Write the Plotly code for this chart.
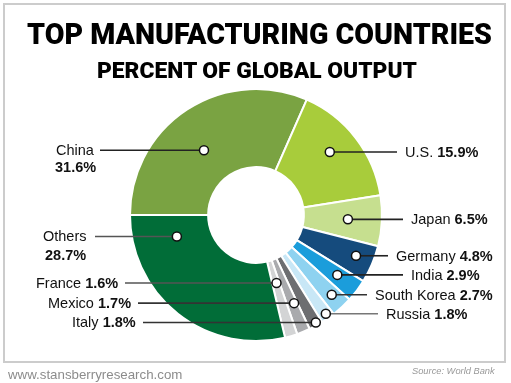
import math
import plotly.graph_objects as go

# ---- data ----
countries = ["China", "U.S.", "Japan", "Germany", "India", "South Korea",
             "Russia", "Italy", "Mexico", "France", "Others"]
shares = [31.6, 15.9, 6.5, 4.8, 2.9, 2.7, 1.8, 1.8, 1.7, 1.6, 28.7]
share_labels = ["31.6%", "15.9%", "6.5%", "4.8%", "2.9%", "2.7%",
                "1.8%", "1.8%", "1.7%", "1.6%", "28.7%"]
title_text = "TOP MANUFACTURING COUNTRIES"
subtitle_text = "PERCENT OF GLOBAL OUTPUT"
site_text = "www.stansberryresearch.com"
source_text = "Source: World Bank"

# ---- style / layout ----
W, H = 511, 383
CX, CY, R = 256, 215, 126
HOLE = 0.38
START = 270  # degrees clockwise from 12 o'clock
colors = ["#7aa342", "#a8cc3b", "#c6df8f", "#154b7d", "#1b9ddb", "#8ed2f0",
          "#c8e7f6", "#6d6e71", "#a9aaad", "#d3d4d5", "#016d38"]
# dot placement: fraction along slice, radius in px
dot_frac = [0.45, 0.45, 0.5, 0.45, 0.45, 0.45, 0.45, 0.4, 0.3, 0.4, 0.853]
dot_rad = [83, 97, 92, 108, 101, 110, 121, 123, 96, 71, 82]
side = ["L", "R", "R", "R", "R", "R", "R", "L", "L", "L", "L"]
line_end = [100, 397, 403, 388, 403, 367, 378, 143, 138, 125, 95]
line_col = ["#222", "#222", "#222", "#222", "#222", "#333", "#777",
            "#333", "#333", "#555", "#555"]
block = {"China": 75, "Others": 65}
value_dy = {"China": 16.5, "Others": 19}
LABEL_FONT = dict(family="Liberation Sans, Arial", size=14.5, color="#111")
TITLE_FAMILY = "Roboto, DejaVu Sans"
FOOT = "Liberation Sans, Arial"

fig = go.Figure()

dom_x = [(CX - R) / W, (CX + R) / W]
dom_y = [1 - (CY + R) / H, 1 - (CY - R) / H]
fig.add_trace(go.Pie(
    labels=countries, values=shares, sort=False, direction="clockwise",
    rotation=START, hole=HOLE, textinfo="none", hoverinfo="label+value",
    marker=dict(colors=colors, line=dict(color="white", width=2)),
    domain=dict(x=dom_x, y=dom_y), showlegend=False,
))
# invisible cartesian trace so the pixel-unit axes exist
fig.add_trace(go.Scatter(x=[0, W], y=[0, H], mode="markers", opacity=0,
                         hoverinfo="skip", showlegend=False))

total = sum(shares)
shapes = [dict(type="rect", x0=4, y0=4, x1=505, y1=362, xref="x", yref="y",
               line=dict(color="#cccccc", width=2), layer="below")]
annotations = []
cum = 0.0
for i, (name, v) in enumerate(zip(countries, shares)):
    a0 = START + cum / total * 360
    a1 = START + (cum + v) / total * 360
    cum += v
    ang = math.radians(a0 + dot_frac[i] * (a1 - a0))
    x = CX + dot_rad[i] * math.sin(ang)
    y = CY - dot_rad[i] * math.cos(ang)
    shapes.append(dict(type="line", x0=x, y0=y, x1=line_end[i], y1=y,
                       xref="x", yref="y", layer="above",
                       line=dict(color=line_col[i], width=1.6)))
    shapes.append(dict(type="circle", x0=x - 4.5, x1=x + 4.5, y0=y - 4.5, y1=y + 4.5,
                       xref="x", yref="y", layer="above", fillcolor="white",
                       line=dict(color="#111", width=1.5)))
    lab = f"{name} <b>{share_labels[i]}</b>"
    if name in block:
        annotations.append(dict(x=block[name], y=y, text=name, xanchor="center",
                                yanchor="middle", showarrow=False, font=LABEL_FONT))
        annotations.append(dict(x=block[name], y=y + value_dy[name],
                                text=f"<b>{share_labels[i]}</b>", xanchor="center",
                                yanchor="middle", showarrow=False, font=LABEL_FONT))
    elif side[i] == "L":
        annotations.append(dict(x=line_end[i] - 5, y=y, text=lab, xanchor="right",
                                yanchor="middle", showarrow=False, font=LABEL_FONT))
    else:
        annotations.append(dict(x=line_end[i] + 6, y=y, text=lab, xanchor="left",
                                yanchor="middle", showarrow=False, font=LABEL_FONT))

annotations += [
    dict(x=259, y=34, text=title_text, showarrow=False,
         xanchor="center", yanchor="middle",
         font=dict(family=TITLE_FAMILY, size=28.6, color="#000", weight=900)),
    dict(x=257, y=70, text=subtitle_text, showarrow=False,
         xanchor="center", yanchor="middle",
         font=dict(family=TITLE_FAMILY, size=22.8, color="#000", weight=900)),
    dict(x=5, y=374, text=site_text, showarrow=False, xanchor="left", yanchor="middle",
         font=dict(family=FOOT, size=13.3, color="#8c8c8c")),
    dict(x=498, y=371, text=f"<i>{source_text}</i>", showarrow=False, xanchor="right",
         yanchor="middle", font=dict(family=FOOT, size=9.3, color="#9a9a9a")),
]

fig.update_layout(
    width=W, height=H, margin=dict(l=0, r=0, t=0, b=0),
    paper_bgcolor="white", plot_bgcolor="rgba(0,0,0,0)",
    font=dict(family="Liberation Sans, Arial", size=14, color="#111"),
    xaxis=dict(range=[0, W], visible=False, fixedrange=True),
    yaxis=dict(range=[H, 0], visible=False, fixedrange=True),
    annotations=annotations,
    shapes=shapes,
    hovermode=False,
)

fig.write_html("out.html", config={"displayModeBar": False},
               post_script="document.body.style.margin='0';")
